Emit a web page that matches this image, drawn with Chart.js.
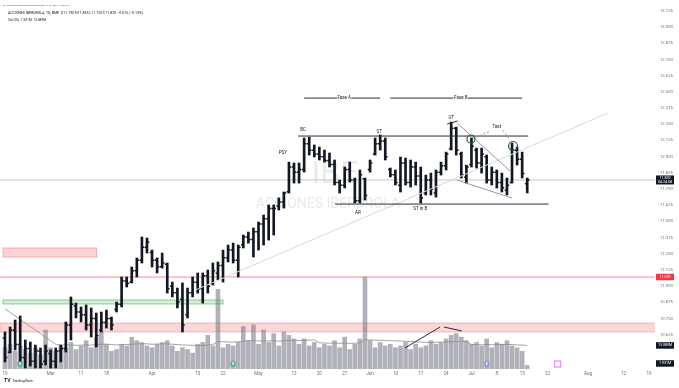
<!DOCTYPE html>
<html>
<head>
<meta charset="utf-8">
<script src="https://cdn.jsdelivr.net/npm/chart.js@4.4.1/dist/chart.umd.min.js"></script>
<style>
html, body { margin: 0; padding: 0; background: #fff; }
canvas { display: block; }
</style>
</head>
<body>
<canvas id="ibeChart" width="679" height="388"></canvas>
<script>
// daily bars, 19 Feb 2024 .. 16 Jul 2024 (index = trading day)
const opens = [10.60,10.49,10.66,10.55,10.45,10.52,10.42,10.50,10.42,10.48,
  10.42,10.50,10.52,10.70,10.85,10.80,10.78,10.70,10.75,10.66,
  10.72,10.75,10.82,10.86,11.04,11.03,11.12,11.20,11.30,11.26,
  11.20,11.15,11.17,11.00,10.95,10.90,10.78,10.95,11.03,10.98,
  11.08,11.02,11.10,11.16,11.22,11.28,11.20,11.32,11.38,11.36,
  11.42,11.48,11.52,11.60,11.62,11.65,11.73,11.92,11.88,11.90,
  12.10,12.05,12.02,12.00,11.97,11.94,11.80,11.78,11.90,11.82,
  11.66,11.83,11.90,12.02,12.10,12.12,11.90,11.86,11.78,11.95,
  11.80,11.92,11.85,11.72,11.82,11.72,11.88,11.93,12.06,12.22,
  12.02,11.84,11.94,12.05,11.95,12.00,11.82,11.88,11.80,11.74,
  11.80,12.05,11.98,11.79];
const highs = [10.647,10.685,10.739,10.770,10.585,10.569,10.546,10.523,10.546,10.508,
  10.523,10.546,10.724,10.917,10.870,10.840,10.855,10.832,10.793,10.801,
  10.816,10.762,10.878,11.071,11.071,11.148,11.218,11.380,11.372,11.279,
  11.218,11.256,11.179,11.032,10.986,11.025,10.986,11.071,11.102,11.102,
  11.125,11.179,11.187,11.279,11.318,11.333,11.318,11.395,11.418,11.449,
  11.495,11.549,11.627,11.627,11.681,11.727,11.958,11.951,11.951,12.144,
  12.151,12.090,12.074,12.051,12.028,11.974,11.819,11.920,11.958,11.835,
  11.897,11.835,11.974,12.144,12.167,12.144,11.912,11.897,11.997,11.989,
  11.974,11.958,11.920,11.858,11.873,11.897,11.958,12.035,12.267,12.228,
  12.035,11.935,12.144,12.066,12.066,12.012,11.920,11.897,11.873,11.835,
  12.105,12.074,12.035,11.835];
const lows = [10.415,10.485,10.508,10.415,10.369,10.384,10.369,10.369,10.392,10.369,
  10.369,10.415,10.492,10.585,10.755,10.724,10.662,10.608,10.531,10.647,
  10.677,10.662,10.801,10.840,10.994,11.025,11.071,11.179,11.256,11.148,
  11.102,11.140,10.947,10.917,10.832,10.647,10.755,10.917,10.947,10.870,
  10.947,11.009,11.048,11.032,11.187,11.179,11.071,11.295,11.333,11.225,
  11.279,11.318,11.356,11.395,11.588,11.603,11.719,11.796,11.796,11.881,
  12.012,11.997,11.974,11.958,11.920,11.781,11.719,11.758,11.804,11.642,
  11.642,11.665,11.881,12.012,12.051,11.974,11.843,11.781,11.727,11.781,
  11.765,11.781,11.642,11.704,11.704,11.688,11.858,11.897,12.051,12.012,
  11.835,11.796,11.920,11.912,11.873,11.796,11.781,11.758,11.727,11.704,
  11.796,11.935,11.835,11.720];
const closes = [10.45,10.66,10.55,10.45,10.52,10.42,10.50,10.40,10.50,10.42,
  10.50,10.52,10.70,10.86,10.80,10.78,10.70,10.75,10.62,10.72,
  10.75,10.70,10.86,11.04,11.02,11.12,11.20,11.30,11.34,11.20,
  11.15,11.18,10.98,10.95,10.88,10.70,10.95,11.03,10.98,11.08,
  11.00,11.12,11.16,11.22,11.28,11.20,11.30,11.38,11.36,11.42,
  11.48,11.52,11.60,11.60,11.65,11.72,11.92,11.88,11.90,12.10,
  12.05,12.02,12.00,11.97,11.94,11.80,11.78,11.90,11.82,11.66,
  11.86,11.70,11.95,12.10,12.12,12.00,11.86,11.80,11.95,11.80,
  11.92,11.85,11.68,11.82,11.75,11.88,11.93,12.02,12.22,12.05,
  11.86,11.92,12.08,11.95,12.02,11.82,11.88,11.80,11.76,11.78,
  12.05,11.98,11.87,11.82];
// volume in millions of shares
const volumes = [12,14,10,13,11,9,12,8,22,12,
  10,13,12,15,11,13,16,12,18,21,
  14,10,11,14,13,18,16,15,13,12,
  14,15,16,13,10,12,11,9,14,15,
  19,13,45,12,14,13,15,24,16,25,
  14,22,15,20,13,21,19,17,14,17,
  13,15,12,14,13,16,12,18,11,14,
  17,52,16,12,15,13,14,12,13,15,
  11,14,12,13,16,14,15,17,19,20,
  18,16,14,15,13,17,12,15,14,16,
  13,12,10,2];
const volumeMA = [34,32,30,28,26,24,22,20,18,16,
  14,13.5,13.5,13.6,13.4,13.5,13.6,13.5,13.8,14,
  14,13.8,13.6,13.7,13.8,14,14.2,14.3,14.2,14,
  14.1,14.2,14.2,14,13.8,13.6,13.5,13.4,13.2,13.3,
  13.5,13.8,15.5,15.4,15.3,15.2,15.4,15.8,15.9,16,
  15.9,15.8,15.9,16,15.7,16,16.1,16.2,16.1,16.2,
  16.3,16.4,14.8,14.7,14.6,14.6,14.5,14.6,14.5,14.6,
  14.7,16.5,16.4,16.3,16.2,16.1,16,15.9,15.8,15.6,
  15.5,15.3,15.2,15.1,15,15.1,15.2,15.3,15.4,15.5,
  15.6,15.6,13.8,13.8,13.7,13.8,13.7,13.8,13.8,13.9,
  13.8,13.6,13.5,13.3];

// time axis labels (trading-day index -> text)
const xTickIdx = [0,9,15,20,29,38,43,50,57,62,67,72,77,82,87,92,97,102,107,115,122,127];
const xTickText = ['19','Mar','11','18','Apr','15','22','May','13','20','27','Jun','10','17','24','Jul','8','15','22','Aug','12','19'];
// price scale labels
const yTicks = [10.625,10.75,10.875,11,11.125,11.25,11.375,11.5,11.625,11.75,11.875,
  12,12.125,12.25,12.375,12.5,12.625,12.75,12.875,13,13.125];

// drawings made on the chart (index, price)
const drawings = [
  { pts: [[37.5, 10.97], [118.9, 12.336]], color: '#d6d8de', w: 1 },
  { pts: [[57.8, 12.159], [103.2, 12.159]], color: '#2a2e39', w: 1 },
  { pts: [[65.1, 11.634], [107.2, 11.634]], color: '#2a2e39', w: 1 },
  { pts: [[59, 12.452], [65.5, 12.452]], color: '#2a2e39', w: 1 },
  { pts: [[68.3, 12.452], [74, 12.452]], color: '#2a2e39', w: 1 },
  { pts: [[76, 12.452], [88.4, 12.452]], color: '#2a2e39', w: 1 },
  { pts: [[91.3, 12.452], [102, 12.452]], color: '#2a2e39', w: 1 },
  { pts: [[87.2, 12.252], [89.3, 12.275]], color: '#2a2e39', w: 1 },
  { pts: [[89.2, 12.259], [99.6, 11.889]], color: '#9598a1', w: 1 },
  { pts: [[89.2, 11.819], [100, 11.68]], color: '#9598a1', w: 1 },
  { pts: [[92.9, 12.150], [95.8, 12.198]], color: '#9598a1', w: 1, dash: [2, 2] },
  { pts: [[98.2, 12.205], [99.6, 12.128]], color: '#9598a1', w: 1, dash: [2, 2] }
];
const volDrawings = [
  { pts: [[78.9, 11.9], [85.8, 23.7]], color: '#2a2e39', w: 1 },
  { pts: [[86.6, 23.7], [90.1, 21.5]], color: '#2a2e39', w: 1 }
];
const zones = [
  { x0: -0.4, x1: 18.1, p0: 11.225, p1: 11.295, fill: 'rgba(242,54,69,0.22)', edge: 'rgba(242,54,69,0.35)' },
  { x0: -0.4, x1: 43, p0: 10.863, p1: 10.894, fill: 'rgba(76,175,80,0.22)', edge: 'rgba(76,175,80,0.6)' },
  { x0: -1, x1: 129, p0: 10.647, p1: 10.716, fill: 'rgba(242,54,69,0.2)', edge: 'rgba(242,54,69,0.3)' },
  { x0: -1, x1: 129, p0: 11.064, p1: 11.078, fill: 'rgba(242,54,69,0.3)', edge: null }
];
const circles = [[91.9, 12.136, 4], [100.2, 12.082, 4.5]];
const notes = [
  ['PSY', 54.8, 12.03], ['BC', 58.8, 12.205], ['ST', 73.8, 12.19], ['UT', 88, 12.298],
  ['AR', 69.6, 11.565], ['ST in B', 81.9, 11.595], ['Test', 97, 12.228],
  ['Fase A', 66.9, 12.452], ['Fase B', 89.9, 12.452]
];
const events = [[3, '#22ab94'], [45, '#22ab94'], [95, '#7e88f0']];

Chart.defaults.font.family = 'Roboto';
Chart.defaults.animation = false;

const n = closes.length;
const bars = opens.map((o, i) => ({ x: i, y: [lows[i], highs[i]] }));
const vols = volumes.map((v, i) => ({ x: i, y: v }));
const ma = volumeMA.map((v, i) => ({ x: i, y: v }));

function line(ctx, sx, sy, d) {
  ctx.save();
  ctx.strokeStyle = d.color;
  ctx.lineWidth = d.w;
  ctx.setLineDash(d.dash || []);
  ctx.beginPath();
  d.pts.forEach((p, k) => {
    const px = sx.getPixelForValue(p[0]), py = sy.getPixelForValue(p[1]);
    k ? ctx.lineTo(px, py) : ctx.moveTo(px, py);
  });
  ctx.stroke();
  ctx.restore();
}

function fitText(ctx, text, x, y, w, size, color) {
  ctx.font = size + 'px Roboto';
  const m = ctx.measureText(text).width;
  if (m > w) ctx.font = (size * w / m).toFixed(2) + 'px Roboto';
  ctx.fillStyle = color;
  ctx.fillText(text, x, y);
}

const backdrop = {
  id: 'backdrop',
  beforeDatasetsDraw(chart) {
    const { ctx, chartArea: a, scales: { x, y } } = chart;
    ctx.save();
    ctx.beginPath();
    ctx.rect(a.left, a.top, a.right - a.left, a.bottom - a.top);
    ctx.clip();
    // watermark
    ctx.fillStyle = 'rgba(120,123,134,0.16)';
    ctx.textAlign = 'center';
    ctx.textBaseline = 'middle';
    ctx.font = '32px Roboto';
    ctx.fillText('IBE', 335, 175);
    ctx.font = '14px Roboto';
    ctx.fillText('ACCIONES IBERDROLA', 328, 204);
    zones.forEach(z => {
      const x0 = x.getPixelForValue(z.x0), x1 = x.getPixelForValue(z.x1);
      const y0 = y.getPixelForValue(z.p1), y1 = y.getPixelForValue(z.p0);
      ctx.fillStyle = z.fill;
      ctx.fillRect(x0, y0, x1 - x0, y1 - y0);
      if (z.edge) {
        ctx.strokeStyle = z.edge;
        ctx.lineWidth = 1;
        ctx.strokeRect(x0, y0, x1 - x0, y1 - y0);
      }
    });
    // last price line
    const lp = y.getPixelForValue(closes[n - 1]);
    ctx.strokeStyle = '#c4c6cc';
    ctx.lineWidth = 1;
    ctx.beginPath();
    ctx.moveTo(a.left, lp);
    ctx.lineTo(a.right, lp);
    ctx.stroke();
    ctx.restore();
  }
};

const overlay = {
  id: 'overlay',
  afterDatasetsDraw(chart) {
    const { ctx, chartArea: a, scales: { x, y, yv } } = chart;
    ctx.save();
    ctx.beginPath();
    ctx.rect(a.left, a.top, a.right - a.left, a.bottom - a.top);
    ctx.clip();
    // open / close ticks
    ctx.strokeStyle = '#131722';
    ctx.lineWidth = 1.5;
    for (let i = 0; i < n; i++) {
      const px = x.getPixelForValue(i);
      const po = y.getPixelForValue(opens[i]), pc = y.getPixelForValue(closes[i]);
      ctx.beginPath();
      ctx.moveTo(px - 2.3, po); ctx.lineTo(px, po);
      ctx.moveTo(px, pc); ctx.lineTo(px + 2.3, pc);
      ctx.stroke();
    }
    drawings.forEach(d => line(ctx, x, y, d));
    volDrawings.forEach(d => line(ctx, x, yv, d));
    circles.forEach(c => {
      ctx.strokeStyle = '#2f5d45';
      ctx.lineWidth = 1.2;
      ctx.beginPath();
      ctx.arc(x.getPixelForValue(c[0]), y.getPixelForValue(c[1]), c[2], 0, Math.PI * 2);
      ctx.stroke();
    });
    ctx.textAlign = 'center';
    ctx.textBaseline = 'middle';
    ctx.font = '4.5px Roboto';
    notes.forEach(t => {
      const px = x.getPixelForValue(t[1]), py = y.getPixelForValue(t[2]);
      ctx.fillStyle = '#131722';
      ctx.fillText(t[0], px, py);
    });
    events.forEach(e => {
      const px = x.getPixelForValue(e[0]), py = a.bottom - 5;
      ctx.fillStyle = e[1];
      ctx.globalAlpha = 0.55;
      ctx.beginPath();
      ctx.arc(px, py, 3.2, 0, Math.PI * 2);
      ctx.fill();
      ctx.globalAlpha = 1;
      ctx.fillStyle = '#fff';
      ctx.font = 'bold 3.5px Roboto';
      ctx.fillText('E', px, py + 0.3);
    });
    const pq = x.getPixelForValue(109);
    ctx.strokeStyle = '#e040fb';
    ctx.globalAlpha = 0.6;
    ctx.strokeRect(pq - 3, a.bottom - 8, 6, 6);
    ctx.globalAlpha = 1;
    ctx.restore();
  },
  afterDraw(chart) {
    const { ctx, chartArea: a, scales: { y, yv } } = chart;
    ctx.save();
    ctx.textBaseline = 'middle';
    ctx.textAlign = 'left';
    fitText(ctx, 'ac_ovejo published on TradingView.com, Jul 16, 2024 11:35 UTC', 3, 5, 66, 3, '#50535e');
    fitText(ctx, 'ACCIONES IBERDROLA, 1D, BME  O11.790 H11.835 L11.720 C11.820 \u22120.015 (\u22120.13%)', 8, 13, 135, 4, '#131722');
    fitText(ctx, 'Vol (20)  1.931M  13.089M', 8, 20, 38, 4, '#131722');
    // price axis tags
    const tag = (py, bg, lines) => {
      ctx.fillStyle = bg;
      const h = lines.length > 1 ? 9 : 6.5;
      ctx.fillRect(a.right + 1, py - h / 2, 18, h);
      ctx.fillStyle = '#fff';
      ctx.font = '3.6px Roboto';
      ctx.textAlign = 'center';
      lines.forEach((t, k) => ctx.fillText(t, a.right + 10, py + (k - (lines.length - 1) / 2) * 4));
    };
    tag(y.getPixelForValue(closes[n - 1]), '#131722', ['11.820', '04:24:58']);
    tag(y.getPixelForValue(11.071), '#f23645', ['11.070']);
    tag(yv.getPixelForValue(volumeMA[n - 1]) , '#131722', ['13.089M']);
    tag(yv.getPixelForValue(volumes[n - 1]) - 2, '#131722', ['1.931M']);
    // logo
    ctx.textAlign = 'left';
    ctx.fillStyle = '#131722';
    ctx.font = 'bold 5px Roboto';
    ctx.fillText('TV', 4, 381);
    ctx.font = '3.8px Roboto';
    ctx.fillText('TradingView', 12, 381);
    ctx.restore();
  }
};

new Chart(document.getElementById('ibeChart'), {
  type: 'bar',
  data: {
    datasets: [
      { type: 'bar', data: bars, yAxisID: 'y', backgroundColor: '#131722', barThickness: 2, grouped: false, order: 1 },
      { type: 'line', data: ma, yAxisID: 'yv', borderColor: '#8a8d96', borderWidth: 0.8, pointRadius: 0, order: 5 },
      { type: 'bar', data: vols, yAxisID: 'yv', backgroundColor: 'rgba(120,123,134,0.58)', barThickness: 4, grouped: false, order: 10 }
    ]
  },
  options: {
    responsive: false,
    devicePixelRatio: 1,
    layout: { padding: 0 },
    plugins: { legend: { display: false }, tooltip: { enabled: false } },
    scales: {
      x: {
        type: 'linear', min: -0.986, max: 128.2, offset: false,
        grid: { display: false, drawTicks: false }, border: { display: false },
        afterBuildTicks: s => { s.ticks = xTickIdx.map(v => ({ value: v })); },
        afterFit: s => { s.height = 19; s.paddingLeft = 0; s.paddingRight = 0; },
        ticks: {
          autoSkip: false, maxRotation: 0, padding: 2,
          font: { size: 4.5 }, color: '#6a6d78',
          callback: v => xTickText[xTickIdx.indexOf(v)]
        }
      },
      y: {
        position: 'right', min: 10.361, max: 13.209,
        grid: { display: false, drawTicks: false }, border: { display: false },
        afterBuildTicks: s => { s.ticks = yTicks.map(v => ({ value: v })); },
        afterFit: s => { s.width = 24; s.paddingTop = 0; s.paddingBottom = 0; },
        ticks: { padding: 5, font: { size: 4.2 }, color: '#6a6d78', callback: v => v.toFixed(3) }
      },
      yv: { display: false, min: 0, max: 208.5 }
    }
  },
  plugins: [backdrop, overlay]
});
</script>
</body>
</html>
